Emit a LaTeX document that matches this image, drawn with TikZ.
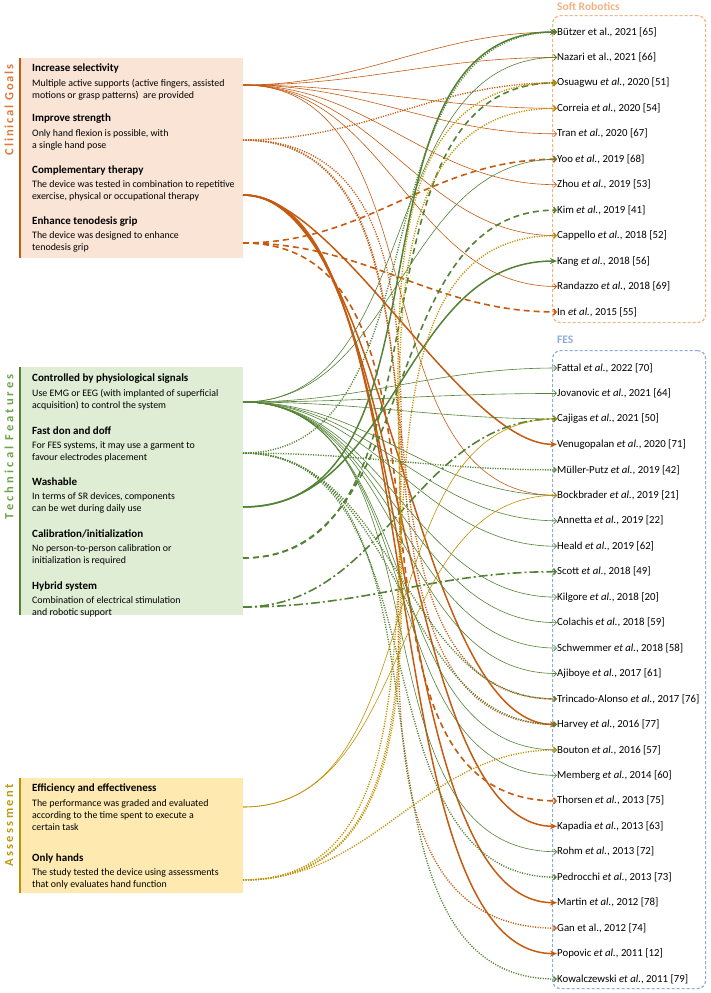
\documentclass[tikz,border=0pt]{standalone}
\usepackage{fontspec}
\setmainfont{Carlito}
\newfontfamily\sidefont{Carlito}
\usetikzlibrary{arrows.meta}

\definecolor{cgorange}{HTML}{C55A11}
\definecolor{cglabel}{HTML}{DC7A3A}
\definecolor{cgfill}{HTML}{FAE4D6}
\definecolor{tfgreen}{HTML}{548235}
\definecolor{tflabel}{HTML}{6FA448}
\definecolor{tffill}{HTML}{DFEDD5}
\definecolor{asgold}{HTML}{BF9000}
\definecolor{aslabel}{HTML}{C09A10}
\definecolor{asfill}{HTML}{FEEAB0}
\definecolor{srline}{HTML}{F4B183}
\definecolor{fesline}{HTML}{8FAADC}

\newcommand{\etal}{\textit{et al.}}

\begin{document}
\begin{tikzpicture}[x=1pt,y=-1pt]
\tikzset{panel/.style={draw=none,inner sep=0,anchor=north west}}
\tikzset{sidebar/.style={line width=2.6pt}}
\tikzset{sidelbl/.style={rotate=90,anchor=east,inner sep=0,font=\sidefont\fontsize{12.5}{12.5}\selectfont\bfseries}}
\tikzset{ttl/.style={anchor=west,inner sep=0,font=\fontsize{11}{12}\selectfont\bfseries}}
\tikzset{dsc/.style={anchor=west,inner sep=0,align=left,font=\fontsize{9.9}{12}\selectfont}}
\tikzset{item/.style={anchor=west,inner sep=0,font=\fontsize{10.8}{12}\selectfont}}
\tikzset{grptitle/.style={anchor=west,inner sep=0,font=\fontsize{11.5}{12}\selectfont\bfseries}}
\tikzset{grpbox/.style={anchor=north west,inner sep=0,rounded corners=8pt,line width=1.2pt,dash pattern=on 3pt off 2pt}}
\tikzset{link/.style={out=0,in=180,shorten >=3pt}}
\tikzset{thinln/.style={line width=0.6pt,-{Straight Barb[length=3pt,width=6pt]}}}
\tikzset{dotln/.style={line width=1.4pt,dash pattern=on 1.1pt off 1.4pt,-{Straight Barb[length=2.5pt,width=5pt]}}}
\tikzset{thickln/.style={line width=1.5pt,looseness=0.6,-{Stealth[length=7pt,width=6pt]}}}
\tikzset{dashln/.style={line width=1.6pt,dash pattern=on 6pt off 4pt,-{Straight Barb[length=2.5pt,width=6pt]}}}
\tikzset{dashdotln/.style={line width=1.6pt,dash pattern=on 9pt off 3pt on 2pt off 3pt,-{Straight Barb[length=2.5pt,width=6pt]}}}

\useasboundingbox (0,0) rectangle (710,993);

% left panels
\node[panel,fill=cgfill,minimum width=223,minimum height=200] (cgbox) at (20,58) {};
\draw[sidebar,cgorange] (cgbox.north west) -- (cgbox.south west);
\node[sidelbl,text=cglabel] (cglbl) at (9,64) {\addfontfeatures{LetterSpace=15}Clinical Goals};

\node[panel,fill=tffill,minimum width=223,minimum height=248] (tfbox) at (20,367) {};
\draw[sidebar,tfgreen] (tfbox.north west) -- (tfbox.south west);
\node[sidelbl,text=tflabel] (tflbl) at (9,374) {\addfontfeatures{LetterSpace=25}Technical Features};

\node[panel,fill=asfill,minimum width=223,minimum height=115] (asbox) at (20,778) {};
\draw[sidebar,asgold] (asbox.north west) -- (asbox.south west);
\node[sidelbl,text=aslabel] (aslbl) at (9,784) {\addfontfeatures{LetterSpace=19}Assessment};

\node[ttl] (isttl) at (32,68) {Increase selectivity};
\node[dsc] (isdsc) at (32,90) {Multiple active supports (active fingers, assisted\\motions or grasp patterns)\ \ are provided};
\node[ttl] (istttl) at (32,119) {Improve strength};
\node[dsc] (istdsc) at (32,140) {Only hand flexion is possible, with\\a single hand pose};
\node[ttl] (ctttl) at (32,171) {Complementary therapy};
\node[dsc] (ctdsc) at (32,191) {The device was tested in combination to repetitive\\exercise, physical or occupational therapy};
\node[ttl] (etgttl) at (32,222) {Enhance tenodesis grip};
\node[dsc] (etgdsc) at (32,242) {The device was designed to enhance\\tenodesis grip};

\node[ttl] (cpsttl) at (32,379) {Controlled by physiological signals};
\node[dsc] (cpsdsc) at (32,400) {Use EMG or EEG (with implanted of superficial\\acquisition) to control the system};
\node[ttl] (fddttl) at (32,431) {Fast don and doff};
\node[dsc] (fdddsc) at (32,452) {For FES systems, it may use a garment to\\favour electrodes placement};
\node[ttl] (wshttl) at (32,482) {Washable};
\node[dsc] (wshdsc) at (32,503) {In terms of SR devices, components\\can be wet during daily use};
\node[ttl] (calttl) at (32,534) {Calibration/initialization};
\node[dsc] (caldsc) at (32,555) {No person-to-person calibration or\\initialization is required};
\node[ttl] (hybttl) at (32,586) {Hybrid system};
\node[dsc] (hybdsc) at (32,607) {Combination of electrical stimulation\\and robotic support};

\node[ttl] (effttl) at (32,788) {Efficiency and effectiveness};
\node[dsc] (effdsc) at (32,815) {The performance was graded and evaluated\\according to the time spent to execute a\\certain task};
\node[ttl] (onhttl) at (32,858) {Only hands};
\node[dsc] (onhdsc) at (32,879) {The study tested the device using assessments\\that only evaluates hand function};

% sources
\coordinate (is) at (243,85);
\coordinate (ist) at (243,140);
\coordinate (ct) at (243,195);
\coordinate (etg) at (243,243);
\coordinate (cps) at (243,402);
\coordinate (fdd) at (243,453);
\coordinate (wsh) at (243,507);
\coordinate (cal) at (243,558);
\coordinate (hyb) at (243,607);
\coordinate (eff) at (243,807);
\coordinate (onh) at (243,880);

% right lists
\node[panel,grpbox,draw=srline,minimum width=153,minimum height=307] (srbox) at (552,15) {};
\node[grptitle,text=srline] (srttl) at (557,6) {Soft Robotics};
\foreach \lbl [count=\i] in {{Bützer et al., 2021 [65]},{Nazari et al., 2021 [66]},{Osuagwu \etal, 2020 [51]},
  {Correia \etal, 2020 [54]},{Tran \etal, 2020 [67]},{Yoo \etal, 2019 [68]},{Zhou \etal, 2019 [53]},
  {Kim \etal, 2019 [41]},{Cappello \etal, 2018 [52]},{Kang \etal, 2018 [56]},{Randazzo \etal, 2018 [69]},
  {In \etal, 2015 [55]}}
  \node[item] (s\i) at (557,{32+25.45*(\i-1)}) {\lbl};

\node[panel,grpbox,draw=fesline,minimum width=153,minimum height=638] (fesbox) at (552,350) {};
\node[grptitle,text=fesline] (festtl) at (557,340) {FES};
\foreach \lbl [count=\i] in {{Fattal \etal, 2022 [70]},{Jovanovic \etal, 2021 [64]},{Cajigas \etal, 2021 [50]},
  {Venugopalan \etal, 2020 [71]},{Müller-Putz \etal, 2019 [42]},{Bockbrader \etal, 2019 [21]},
  {Annetta \etal, 2019 [22]},{Heald \etal, 2019 [62]},{Scott \etal, 2018 [49]},{Kilgore \etal, 2018 [20]},
  {Colachis \etal, 2018 [59]},{Schwemmer \etal, 2018 [58]},{Ajiboye \etal, 2017 [61]},
  {Trincado-Alonso \etal, 2017 [76]},{Harvey \etal, 2016 [77]},{Bouton \etal, 2016 [57]},
  {Memberg \etal, 2014 [60]},{Thorsen \etal, 2013 [75]},{Kapadia \etal, 2013 [63]},{Rohm \etal, 2013 [72]},
  {Pedrocchi \etal, 2013 [73]},{Martin \etal, 2012 [78]},{Gan et al., 2012 [74]},{Popovic \etal, 2011 [12]},
  {Kowalczewski \etal, 2011 [79]}}
  \node[item] (f\i) at (557,{368+25.46*(\i-1)}) {\lbl};

% clinical goals links
\foreach \t in {s1,s2,s4,s5,s7,s9,s11,f6} \draw[thinln,cgorange] (is) to[link] (\t.west);
\foreach \t in {s3,f14,f15,f23} \draw[dotln,cgorange] (ist) to[link] (\t.west);
\foreach \t in {f4,f15,f19,f22,f24} \draw[thickln,cgorange] (ct) to[link] (\t.west);
\foreach \t in {s6,s12,f18} \draw[dashln,cgorange] (etg) to[link] (\t.west);
% technical features links
\foreach \t in {s2,s6,f1,f2,f3,f6,f7,f8,f10,f11,f12,f13,f16,f17,f20} \draw[thinln,tfgreen] (cps) to[link] (\t.west);
\foreach \t in {s1,f5,f14,f15,f21,f25} \draw[dotln,tfgreen] (fdd) to[link] (\t.west);
\foreach \t in {s1,s10} \draw[thickln,tfgreen,looseness=1] (wsh) to[link] (\t.west);
\foreach \t in {s3,s8} \draw[dashln,tfgreen] (cal) to[link] (\t.west);
\foreach \t in {f3,f9} \draw[dashdotln,tfgreen] (hyb) to[link] (\t.west);
% assessment links
\foreach \t in {f3,f6} \draw[thinln,asgold] (eff) to[link] (\t.west);
\foreach \t in {s3,s4,s9,f16} \draw[dotln,asgold] (onh) to[link] (\t.west);

\end{tikzpicture}
\end{document}
